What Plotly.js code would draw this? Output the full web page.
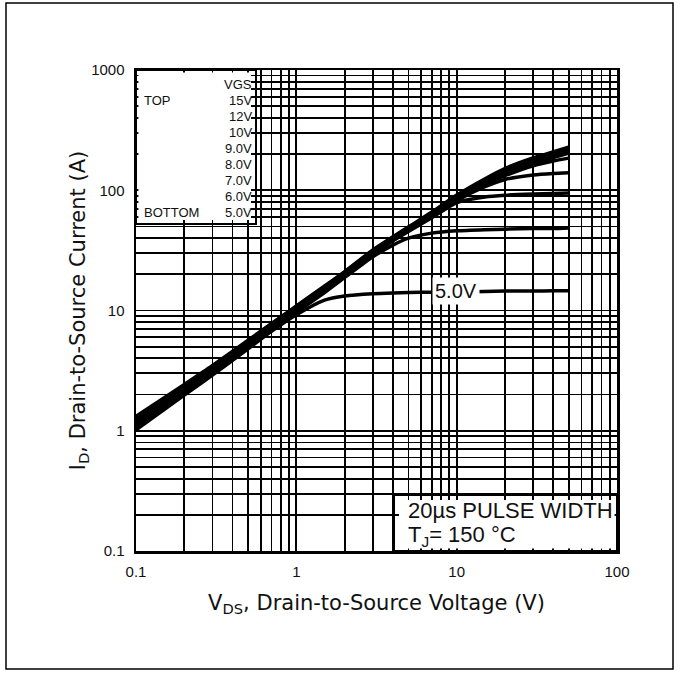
<!DOCTYPE html>
<html>
<head>
<meta charset="utf-8">
<script src="https://cdn.plot.ly/plotly-3.0.1.min.js"></script>
<style>html,body{margin:0;padding:0;background:#fff;}#chart{width:680px;height:674px;}</style>
</head>
<body>
<div id="chart"></div>
<script>
// Drain-to-source voltage (V)
const vds = [0.1, 0.2, 0.3, 0.5, 0.7, 1, 1.5, 2, 3, 4, 5, 7, 10, 15, 20, 30, 40, 50];
// Drain current (A) per gate voltage
const id15 = [1.3, 2.4, 3.45, 5.6, 7.7, 10.8, 15.8, 20.8, 31.5, 40.5, 49, 65, 90, 123, 150, 184, 206, 226];
const id12 = [1.26, 2.35, 3.38, 5.5, 7.6, 10.6, 15.5, 20.5, 31, 40, 48, 64, 88.5, 120, 145, 177, 198, 216];
const id10 = [1.22, 2.3, 3.3, 5.4, 7.5, 10.4, 15.3, 20.2, 30.5, 39.5, 47.5, 63, 87, 116, 139, 169, 189, 206];
const id9  = [1.18, 2.24, 3.24, 5.3, 7.35, 10.2, 15.0, 19.9, 30, 39, 47, 62, 85, 111, 132, 160, 175, 185];
const id8  = [1.14, 2.18, 3.17, 5.2, 7.2, 10.0, 14.7, 19.6, 29.5, 38.5, 46.5, 61, 82, 107, 123, 134, 138, 140];
const id7  = [1.1, 2.12, 3.1, 5.1, 7.05, 9.8, 14.4, 19.2, 29, 38, 45.5, 59, 79, 88, 91, 93, 94, 95];
const id6  = [1.06, 2.05, 3.0, 4.95, 6.9, 9.6, 14.1, 18.8, 28, 35, 40, 44, 46, 47, 47.5, 48, 48, 48.5];
const id5  = [1.02, 1.98, 2.9, 4.8, 6.7, 9.2, 12.2, 13.2, 13.8, 14.0, 14.1, 14.2, 14.3, 14.4, 14.5, 14.5, 14.6, 14.6];
const seriesNames = ['15V', '12V', '10V', '9.0V', '8.0V', '7.0V', '6.0V', '5.0V'];
const seriesData = [id15, id12, id10, id9, id8, id7, id6, id5];

// Axis ticks (labelled decades) and minor grid values
const xTickVals = [0.1, 1, 10, 100];
const xTickText = ['0.1', '1', '10', '100'];
const xMinorVals = [0.2,0.3,0.4,0.5,0.6,0.7,0.8,0.9,2,3,4,5,6,7,8,9,20,30,40,50,60,70,80,90];
const yTickVals = [0.1, 1, 10, 100, 1000];
const yTickText = ['0.1', '1', '10', '100', '1000'];
const yMinorVals = [0.2,0.3,0.4,0.5,0.6,0.7,0.8,0.9,2,3,4,5,6,7,8,9,20,30,40,50,60,70,80,90,200,300,400,500,600,700,800,900];

// Legend block text
const legendHeader = 'VGS';
const legendTop = 'TOP';
const legendBottom = 'BOTTOM';

const FONT = 'Liberation Sans, Arial, sans-serif';
const TFONT = 'DejaVu Sans, sans-serif';
const INK = '#111';

const traces = seriesData.map((ys, i) => ({
  x: vds, y: ys, type: 'scatter', mode: 'lines', name: seriesNames[i],
  line: {color: '#000', width: i < 3 ? 4.5 : 3.5, shape: 'spline', smoothing: 0.6},
  hoverinfo: 'skip', showlegend: false
}));

// paper coordinate helpers (plot area spans 481 x 481 px)
const px = p => (p - 136) / 481;
const py = p => (551 - p) / 481;

const annotations = [];
const legRows = [legendHeader].concat(seriesNames);
const rowY = [85, 101, 117, 133, 148, 164, 180, 196, 213];
legRows.forEach((t, i) => {
  annotations.push({xref: 'paper', yref: 'paper', x: px(254), y: py(rowY[i]), xanchor: 'right', yanchor: 'middle',
    text: t, showarrow: false, font: {family: FONT, size: 13, color: INK}});
});
annotations.push({xref: 'paper', yref: 'paper', x: px(142), y: py(101), xanchor: 'left', yanchor: 'middle',
  text: legendTop, showarrow: false, font: {family: FONT, size: 13, color: INK}});
annotations.push({xref: 'paper', yref: 'paper', x: px(142), y: py(213), xanchor: 'left', yanchor: 'middle',
  text: legendBottom, showarrow: false, font: {family: FONT, size: 13, color: INK}});
// curve label
annotations.push({xref: 'x', yref: 'y', x: Math.log10(9.9), y: Math.log10(14.5), xanchor: 'center', yanchor: 'middle',
  text: '5.0V', showarrow: false, bgcolor: '#fff', borderpad: 2, font: {family: FONT, size: 20, color: INK}});
// conditions box text
annotations.push({xref: 'paper', yref: 'paper', x: px(406), y: py(510), xanchor: 'left', yanchor: 'middle',
  text: '20µs PULSE WIDTH', showarrow: false, font: {family: FONT, size: 22, color: INK}});
annotations.push({xref: 'paper', yref: 'paper', x: px(406), y: py(536), xanchor: 'left', yanchor: 'middle',
  text: 'T<sub>J</sub>= 150 °C', showarrow: false, font: {family: FONT, size: 22, color: INK}});

const shapes = [
  // legend block mask
  {type: 'rect', xref: 'paper', yref: 'paper', x0: 0.005, x1: px(251), y0: py(220), y1: 0.995, layer: 'above',
   fillcolor: '#fff', line: {width: 0}},
  {type: 'rect', xref: 'paper', yref: 'paper', x0: 0, x1: px(256), y0: py(224), y1: 1, layer: 'above',
   fillcolor: 'rgba(0,0,0,0)', line: {color: '#000', width: 2}},
  // conditions box mask
  {type: 'rect', xref: 'paper', yref: 'paper', x0: px(399), x1: 0.995, y0: 0.005, y1: py(500), layer: 'above',
   fillcolor: '#fff', line: {width: 0}},
  {type: 'rect', xref: 'paper', yref: 'paper', x0: px(394), x1: 1, y0: 0, y1: py(495), layer: 'above',
   fillcolor: 'rgba(0,0,0,0)', line: {color: '#000', width: 2}},
  // outer frame
  {type: 'rect', xref: 'paper', yref: 'paper', x0: px(6), x1: px(673), y0: py(669), y1: py(3), layer: 'above',
   fillcolor: 'rgba(0,0,0,0)', line: {color: '#000', width: 1.5}}
];

const axisCommon = {
  type: 'log', showgrid: true, gridcolor: '#000', gridwidth: 1.8, zeroline: false,
  showline: true, linecolor: '#000', linewidth: 2.5, mirror: true, ticks: '',
  tickfont: {family: FONT, size: 15, color: INK}, fixedrange: true
};

const layout = {
  width: 680, height: 674,
  margin: {l: 136, r: 63, t: 70, b: 123},
  paper_bgcolor: '#fff', plot_bgcolor: '#fff',
  showlegend: false,
  xaxis: Object.assign({}, axisCommon, {
    range: [-1, 2], tickmode: 'array', tickvals: xTickVals, ticktext: xTickText, ticklabelstandoff: 5,
    minor: {tickmode: 'array', tickvals: xMinorVals, showgrid: true, gridcolor: '#000', gridwidth: 1.8, ticks: ''},
    title: {text: 'V<sub>DS</sub>, Drain-to-Source Voltage (V)', font: {family: TFONT, size: 21, color: INK}, standoff: 17}
  }),
  yaxis: Object.assign({}, axisCommon, {
    range: [-1, 3], tickmode: 'array', tickvals: yTickVals, ticktext: yTickText, ticklabelstandoff: 6,
    minor: {tickmode: 'array', tickvals: yMinorVals, showgrid: true, gridcolor: '#000', gridwidth: 1.8, ticks: ''},
    title: {text: 'I<sub>D</sub>, Drain-to-Source Current (A)', font: {family: TFONT, size: 21, color: INK}, standoff: 0}
  }),
  shapes: shapes,
  annotations: annotations
};

Plotly.newPlot('chart', traces, layout, {displayModeBar: false, staticPlot: true});
</script>
</body>
</html>
